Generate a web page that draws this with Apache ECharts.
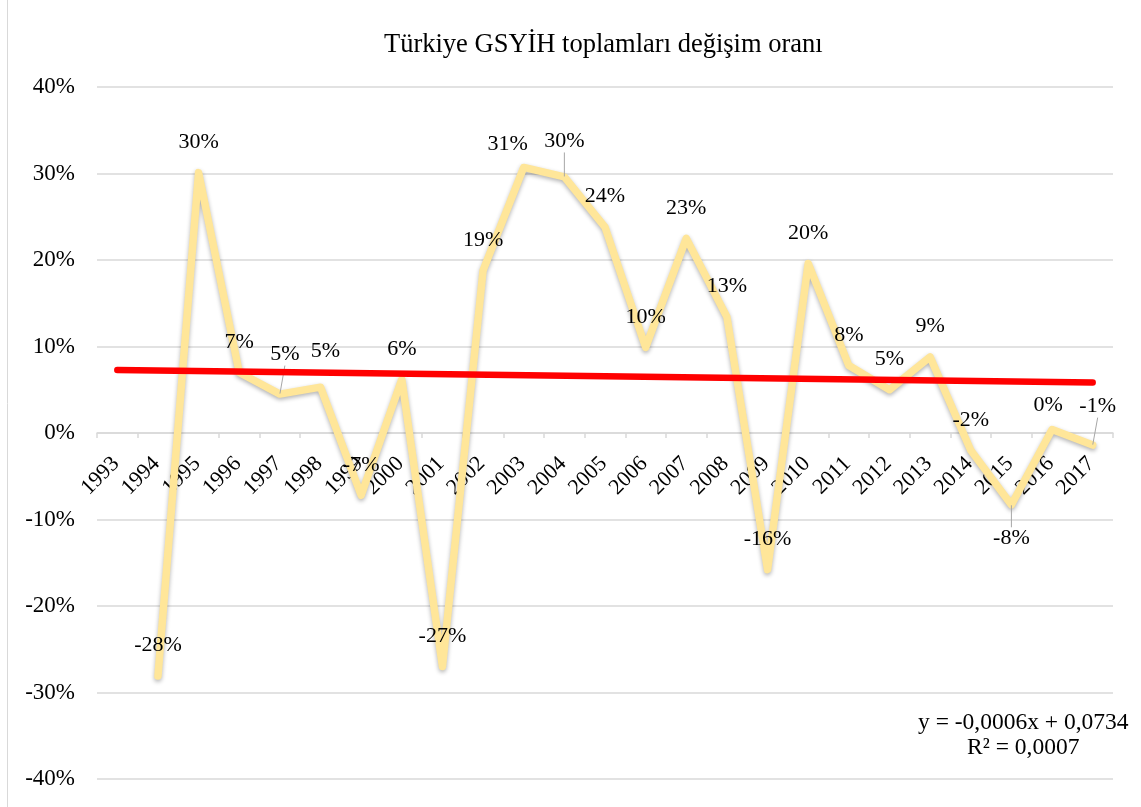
<!DOCTYPE html>
<html>
<head>
<meta charset="utf-8">
<script src="https://cdn.jsdelivr.net/npm/echarts@6/dist/echarts.min.js"></script>
<style>
  html, body { margin: 0; padding: 0; background: #fff; }
  #chart { width: 1141px; height: 807px; }
</style>
</head>
<body>
<div id="chart"></div>
<script>
// categories on the x axis (1993 has no value)
const years = ['1993', '1994', '1995', '1996', '1997', '1998', '1999', '2000', '2001', '2002',
  '2003', '2004', '2005', '2006', '2007', '2008', '2009', '2010', '2011', '2012',
  '2013', '2014', '2015', '2016', '2017']

// yearly change rate
const changeRate = [null, -0.281, 0.301, 0.07, 0.045, 0.053, -0.072, 0.062, -0.27, 0.188,
  0.307, 0.296, 0.238, 0.099, 0.225, 0.134, -0.158, 0.196, 0.078, 0.05,
  0.088, -0.02, -0.083, 0.004, -0.014]

// linear trend y = -0,0006x + 0,0734 at x = 1 and x = 25
const trendStart = 0.0728
const trendEnd = 0.0584
const trendText = ['y = -0,0006x + 0,0734', 'R² = 0,0007']

const yTicks = [-0.4, -0.3, -0.2, -0.1, 0, 0.1, 0.2, 0.3, 0.4]

// label nudges for a few points (pixels), some with a leader line
const labelTweaks = {
  '1997': { dx: 5, dy: -9, leader: true },
  '1998': { dx: 5, dy: -5 },
  '2003': { dx: -16, dy: 7 },
  '2004': { dx: 0, dy: -5, leader: true },
  '2015': { below: true, leader: true },
  '2016': { dx: -4, dy: 6 },
  '2017': { dx: 5, dy: -8, leader: true },
}

const font = '"Liberation Serif", "DejaVu Serif", serif'

const gridTop = 87
const gridBottom = 28
const chartHeight = 807

const lineData = changeRate.map((v, i) => {
  const tweak = labelTweaks[years[i]]
  if (!tweak) return v
  const item = { value: v }
  if (tweak.below) item.label = { position: 'bottom', distance: 22 }
  if (tweak.leader) item.labelLine = { show: true }
  return item
})

const trendData = years.map((_, i) =>
  i === 0 ? trendStart : i === years.length - 1 ? trendEnd : null
)

// zero sits in the middle of the symmetric y range
const zeroOffset = -((chartHeight - gridBottom) - (gridTop + chartHeight - gridBottom) / 2)

const chart = echarts.init(document.getElementById('chart'))

chart.setOption({
  animation: false,
  title: {
    text: 'Türkiye GSYİH toplamları değişim oranı',
    left: 379,
    top: 27,
    textStyle: { fontFamily: font, fontSize: 26.5, fontWeight: 'normal', color: '#000' },
  },
  grid: { left: 97, right: 28, top: gridTop, bottom: gridBottom, outerBoundsMode: 'none' },
  xAxis: {
    type: 'category',
    data: years,
    boundaryGap: true,
    offset: zeroOffset,
    axisLine: { onZero: false, lineStyle: { color: '#d9d9d9', width: 1.5 } },
    axisTick: { show: true, length: 5, lineStyle: { color: '#d9d9d9', width: 1.5 } },
    axisLabel: {
      rotate: 45,
      interval: 0,
      margin: 26,
      padding: [0, 2, 0, 0],
      fontFamily: font,
      fontSize: 22,
      color: '#000',
    },
  },
  yAxis: {
    type: 'value',
    min: yTicks[0],
    max: yTicks[yTicks.length - 1],
    interval: 0.1,
    axisLine: { show: false },
    axisTick: { show: false },
    splitLine: { lineStyle: { color: '#d9d9d9', width: 1.5 } },
    axisLabel: {
      margin: 22,
      fontFamily: font,
      fontSize: 23,
      color: '#000',
      formatter: (v) => Math.round(v * 100) + '%',
    },
  },
  series: [
    {
      type: 'line',
      data: lineData,
      symbol: 'circle',
      symbolSize: 1,
      showSymbol: true,
      itemStyle: { color: 'rgba(0,0,0,0)' },
      lineStyle: {
        color: '#FFE699',
        width: 7.5,
        cap: 'round',
        join: 'round',
        shadowColor: 'rgba(0,0,0,0.3)',
        shadowBlur: 4,
        shadowOffsetY: 2,
      },
      label: {
        show: true,
        position: 'top',
        distance: 19,
        fontFamily: font,
        fontSize: 22,
        color: '#000',
        formatter: (p) => Math.round(p.value * 100) + '%',
      },
      labelLine: { show: false, smooth: false, lineStyle: { color: '#a6a6a6', width: 1 } },
      labelLayout: (params) => {
        const tweak = labelTweaks[years[params.dataIndex]]
        if (!tweak || tweak.below) return {}
        return { dx: tweak.dx || 0, dy: tweak.dy || 0 }
      },
      z: 2,
    },
    {
      type: 'line',
      data: trendData,
      connectNulls: true,
      symbol: 'none',
      lineStyle: { color: '#FF0000', width: 6.5, cap: 'round' },
      silent: true,
      z: 3,
    },
  ],
  graphic: [
    {
      type: 'rect',
      shape: { x: 7.5, y: -2, width: 1140, height: 812 },
      style: { fill: 'none', stroke: '#d9d9d9', lineWidth: 1 },
      silent: true,
    },
    {
      type: 'text',
      left: 918,
      top: 710,
      style: {
        text: trendText.join('\n'),
        textAlign: 'center',
        x: 106,
        fontFamily: font,
        fontSize: 23.5,
        lineHeight: 25,
        fill: '#000',
      },
    },
  ],
})
</script>
</body>
</html>
